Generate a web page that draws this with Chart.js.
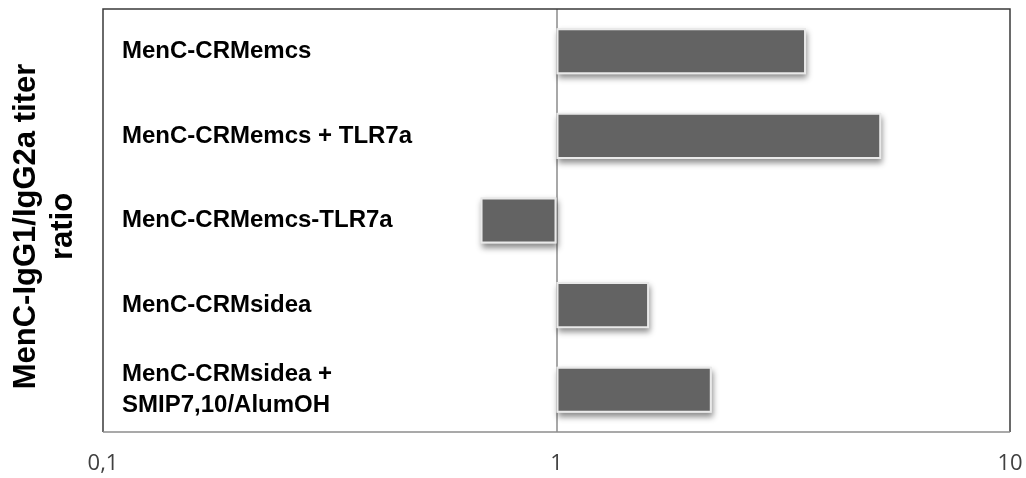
<!DOCTYPE html>
<html>
<head>
<meta charset="utf-8">
<script src="https://cdn.jsdelivr.net/npm/chart.js@4.4.1/dist/chart.umd.min.js"></script>
<style>
  html, body { margin: 0; padding: 0; background: #fff; overflow: hidden; }
  canvas { display: block; }
</style>
</head>
<body>
<canvas id="c" width="1026" height="478"></canvas>
<script>
// Vaccine formulations (top to bottom)
const categories = [
  'MenC-CRMemcs',
  'MenC-CRMemcs + TLR7a',
  'MenC-CRMemcs-TLR7a',
  'MenC-CRMsidea',
  ['MenC-CRMsidea +', 'SMIP7,10/AlumOH']
];
// IgG1/IgG2a titer ratio per formulation (bars grow from ratio = 1)
const ratioValues = [3.55, 5.2, 0.68, 1.6, 2.2];
const baseRatio = 1;
// Log axis ticks
const xTickValues = [0.1, 1, 10];
const xTickLabels = ['0,1', '1', '10'];
const yTitleLines = ['MenC-IgG1/IgG2a titer', 'ratio'];

// no extra room around the plot for edge labels
function noEdgePadding(s) {
  s.paddingTop = 0; s.paddingBottom = 0; s.paddingLeft = 0; s.paddingRight = 0;
}

// soft drop shadow under each bar
const barShadow = {
  id: 'barShadow',
  beforeDatasetsDraw(chart) {
    const ctx = chart.ctx;
    const meta = chart.getDatasetMeta(0);
    ctx.save();
    ctx.shadowColor = 'rgba(0,0,0,0.45)';
    ctx.shadowBlur = 6;
    ctx.shadowOffsetX = 1;
    ctx.shadowOffsetY = 4;
    ctx.fillStyle = '#e8e8e8';
    meta.data.forEach(el => {
      const p = el.getProps(['x', 'y', 'base', 'height'], true);
      const left = Math.min(p.x, p.base);
      const w = Math.abs(p.x - p.base);
      ctx.fillRect(left, p.y - p.height / 2, w, p.height);
    });
    ctx.restore();
  }
};

// plot frame and rotated two-line axis title
const frameAndTitle = {
  id: 'frameAndTitle',
  afterDraw(chart) {
    const ctx = chart.ctx;
    const a = chart.chartArea;
    ctx.save();
    ctx.lineWidth = 1.5;
    ctx.strokeStyle = '#3a3a3a';
    ctx.beginPath();
    ctx.moveTo(a.left, a.bottom);
    ctx.lineTo(a.left, a.top);
    ctx.lineTo(a.right, a.top);
    ctx.lineTo(a.right, a.bottom);
    ctx.stroke();
    ctx.strokeStyle = '#8c8c8c';
    ctx.beginPath();
    ctx.moveTo(a.left, a.bottom);
    ctx.lineTo(a.right, a.bottom);
    ctx.stroke();

    const cy = (a.top + a.bottom) / 2 + 6;
    ctx.fillStyle = '#000';
    ctx.font = 'bold 31px "Liberation Sans", Arial, sans-serif';
    ctx.textAlign = 'center';
    ctx.textBaseline = 'middle';
    const xs = [26, 63];
    yTitleLines.forEach((t, i) => {
      ctx.save();
      ctx.translate(xs[i], cy);
      ctx.rotate(-Math.PI / 2);
      ctx.fillText(t, 0, 0);
      ctx.restore();
    });
    ctx.restore();
  }
};

new Chart(document.getElementById('c'), {
  type: 'bar',
  data: {
    labels: categories,
    datasets: [{
      data: ratioValues.map(v => [baseRatio, v]),
      backgroundColor: '#636363',
      borderColor: '#e9e9e9',
      borderWidth: 2,
      borderSkipped: false,
      barPercentage: 0.545,
      categoryPercentage: 1
    }]
  },
  options: {
    indexAxis: 'y',
    responsive: false,
    animation: false,
    devicePixelRatio: 1,
    layout: { padding: { left: 103, right: 16, top: 9, bottom: 0 } },
    plugins: { legend: { display: false }, tooltip: { enabled: false } },
    scales: {
      x: {
        type: 'logarithmic',
        min: 0.1,
        max: 10,
        afterBuildTicks: s => { s.ticks = xTickValues.map(v => ({ value: v })); },
        afterFit: s => { s.height = 46; noEdgePadding(s); },
        border: { display: false },
        grid: {
          drawTicks: false,
          color: c => (c.tick && c.tick.value === baseRatio) ? '#a8a8a8' : 'rgba(0,0,0,0)',
          lineWidth: 2
        },
        ticks: {
          autoSkip: false,
          maxRotation: 0,
          padding: 19,
          color: '#404040',
          font: { family: '"Open Sans", sans-serif', size: 22 },
          callback: (v) => {
            const i = xTickValues.findIndex(t => Math.abs(t - v) < 1e-9);
            return i >= 0 ? xTickLabels[i] : '';
          }
        }
      },
      y: {
        afterFit: s => { s.width = 0; noEdgePadding(s); },
        border: { display: false },
        grid: { display: false, drawTicks: false },
        ticks: {
          mirror: true,
          padding: 19,
          color: '#000',
          font: { family: '"Liberation Sans", Arial, sans-serif', size: 24, weight: 'bold', lineHeight: 1.3 }
        }
      }
    }
  },
  plugins: [barShadow, frameAndTitle]
});
</script>
</body>
</html>
